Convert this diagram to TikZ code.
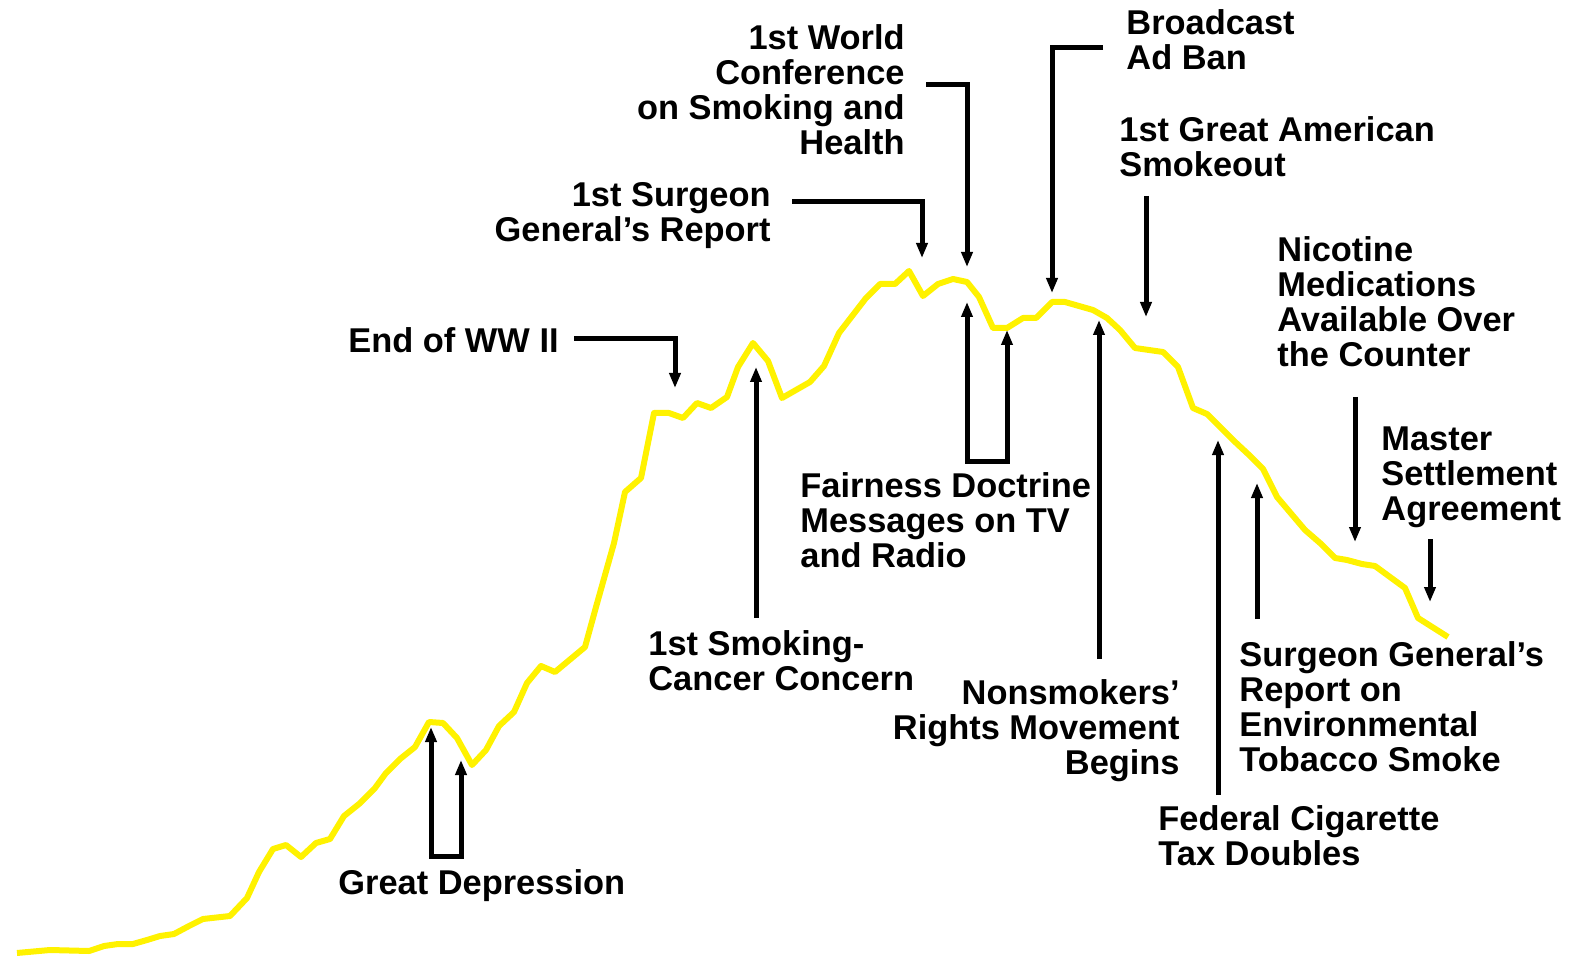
\documentclass[tikz,border=0pt]{standalone}
\usepackage{fontspec}
\setmainfont{Liberation Sans}
\usetikzlibrary{arrows.meta}

\begin{document}
\begin{tikzpicture}[x=0.5pt, y=-0.5pt,
   every node/.style={inner sep=0pt, font=\fontsize{17.2}{17.5}\selectfont\bfseries},
   pointer/.style={line width=2.5pt, -{Triangle[length=7.5pt,width=5.5pt]}},
   bracket/.style={line width=2.5pt, {Triangle[length=7.5pt,width=5.5pt]}-{Triangle[length=7.5pt,width=5.5pt]}}]
   \useasboundingbox (0,0) rectangle (1577,956);

   % consumption curve
   \draw[yellow, line width=3pt, line join=round] (17,953) -- (50,950) -- (89,951) -- (104,946) -- (118,944) -- (133,944)
      -- (147,940) -- (160,936) -- (174,934) -- (189,926) -- (203,919) -- (230,916) -- (247,898) -- (259,872)
      -- (273,849) -- (286,845) -- (301,857) -- (316,843) -- (330,839) -- (344,816) -- (359,804) -- (375,788)
      -- (386,773) -- (400,759) -- (415,747) -- (429,722) -- (443,723) -- (457,738) -- (472,765) -- (486,750)
      -- (499,726) -- (514,712) -- (527,683) -- (541,666) -- (555,672) -- (585,647) -- (596,607) -- (614,543)
      -- (625,492) -- (641,478) -- (654,413) -- (669,413) -- (683,418) -- (697,403) -- (711,408) -- (727,397)
      -- (738,367) -- (753,343) -- (768,361) -- (782,398) -- (810,382) -- (824,366) -- (839,333) -- (866,298)
      -- (880,284) -- (895,284) -- (909,271) -- (923,296) -- (938,284) -- (953,279) -- (967,282) -- (979,297)
      -- (993,328) -- (1007,328) -- (1023,318) -- (1036,318) -- (1052,302) -- (1065,302) -- (1093,310)
      -- (1107,318) -- (1120,330) -- (1135,348) -- (1163,352) -- (1178,367) -- (1193,408) -- (1207,414)
      -- (1233,440) -- (1248,454) -- (1263,469) -- (1277,497) -- (1305,530) -- (1320,543) -- (1335,558)
      -- (1347,560) -- (1362,564) -- (1375,566) -- (1405,588) -- (1418,618) -- (1448,637);

   % points on the curve
   \coordinate (deptipa) at (431,727);
   \coordinate (deptipb) at (461,760);
   \coordinate (wwtip) at (675,388);
   \coordinate (smktip) at (756,367);
   \coordinate (sgrtip) at (922,258);
   \coordinate (wctip) at (967,267);
   \coordinate (fdtipa) at (967,302);
   \coordinate (fdtipb) at (1007,330);
   \coordinate (adtip) at (1052,293);
   \coordinate (nsrtip) at (1099,320);
   \coordinate (gastip) at (1146,317);
   \coordinate (taxtip) at (1218,440);
   \coordinate (etstip) at (1257,483);
   \coordinate (nictip) at (1355,542);
   \coordinate (msatip) at (1430,602);

   % events
   \node[anchor=north east, align=right] (wcsh) at (905,24) {1st World\\Conference\\on Smoking and\\Health};
   \node[anchor=north east, align=right] (sgr) at (771,182) {1st Surgeon\\General’s Report};
   \node[anchor=north east] (wwii) at (559,327) {End of WW II};
   \node[anchor=north west, align=left] (adban) at (1126,9) {Broadcast\\Ad Ban};
   \node[anchor=north west, align=left] (gas) at (1119,116) {1st Great American\\Smokeout};
   \node[anchor=north west, align=left] (nic) at (1277,236) {Nicotine\\Medications\\Available Over\\the Counter};
   \node[anchor=north west, align=left] (msa) at (1381,426) {Master\\Settlement\\Agreement};
   \node[anchor=north west, align=left] (fair) at (800,472) {Fairness Doctrine\\Messages on TV\\and Radio};
   \node[anchor=north west, align=left] (smk) at (648,630) {1st Smoking-\\Cancer Concern};
   \node[anchor=north east, align=right] (nsr) at (1180,679) {Nonsmokers’\\Rights Movement\\Begins};
   \node[anchor=north west, align=left] (ets) at (1239,641) {Surgeon General’s\\Report on\\Environmental\\Tobacco Smoke};
   \node[anchor=north west, align=left] (tax) at (1158,805) {Federal Cigarette\\Tax Doubles};
   \node[anchor=north west] (dep) at (338,869) {Great Depression};

   \coordinate (depbase) at ([yshift=6.5pt]dep.north);
   \coordinate (fdbase) at ([yshift=5.5pt]fair.north);

   \draw[pointer] ([xshift=7.5pt,yshift=-6pt]wwii.north east) -| (wwtip);
   \draw[pointer] ([xshift=10.5pt,yshift=-10pt]sgr.north east) -| (sgrtip);
   \draw[pointer] ([xshift=10.5pt,yshift=-30.5pt]wcsh.north east) -| (wctip);
   \draw[pointer] ([xshift=-11.5pt,yshift=-19.5pt]adban.north west) -| (adtip);
   \draw[pointer] ([xshift=13.5pt,yshift=-40pt]gas.north west) -- (gastip);
   \draw[pointer] ([xshift=39pt,yshift=-80.5pt]nic.north west) -- (nictip);
   \draw[pointer] ([xshift=24.5pt,yshift=-56.5pt]msa.north west) -- (msatip);
   \draw[pointer] ([xshift=54pt,yshift=6pt]smk.north west) -- (smktip);
   \draw[pointer] ([xshift=-40.5pt,yshift=10pt]nsr.north east) -- (nsrtip);
   \draw[pointer] ([xshift=30pt,yshift=5pt]tax.north west) -- (taxtip);
   \draw[pointer] ([xshift=9pt,yshift=11pt]ets.north west) -- (etstip);
   \draw[bracket] (fdtipa) -- (fdtipa |- fdbase) -- (fdtipb |- fdbase) -- (fdtipb);
   \draw[bracket] (deptipa) -- (deptipa |- depbase) -- (deptipb |- depbase) -- (deptipb);
\end{tikzpicture}
\end{document}
